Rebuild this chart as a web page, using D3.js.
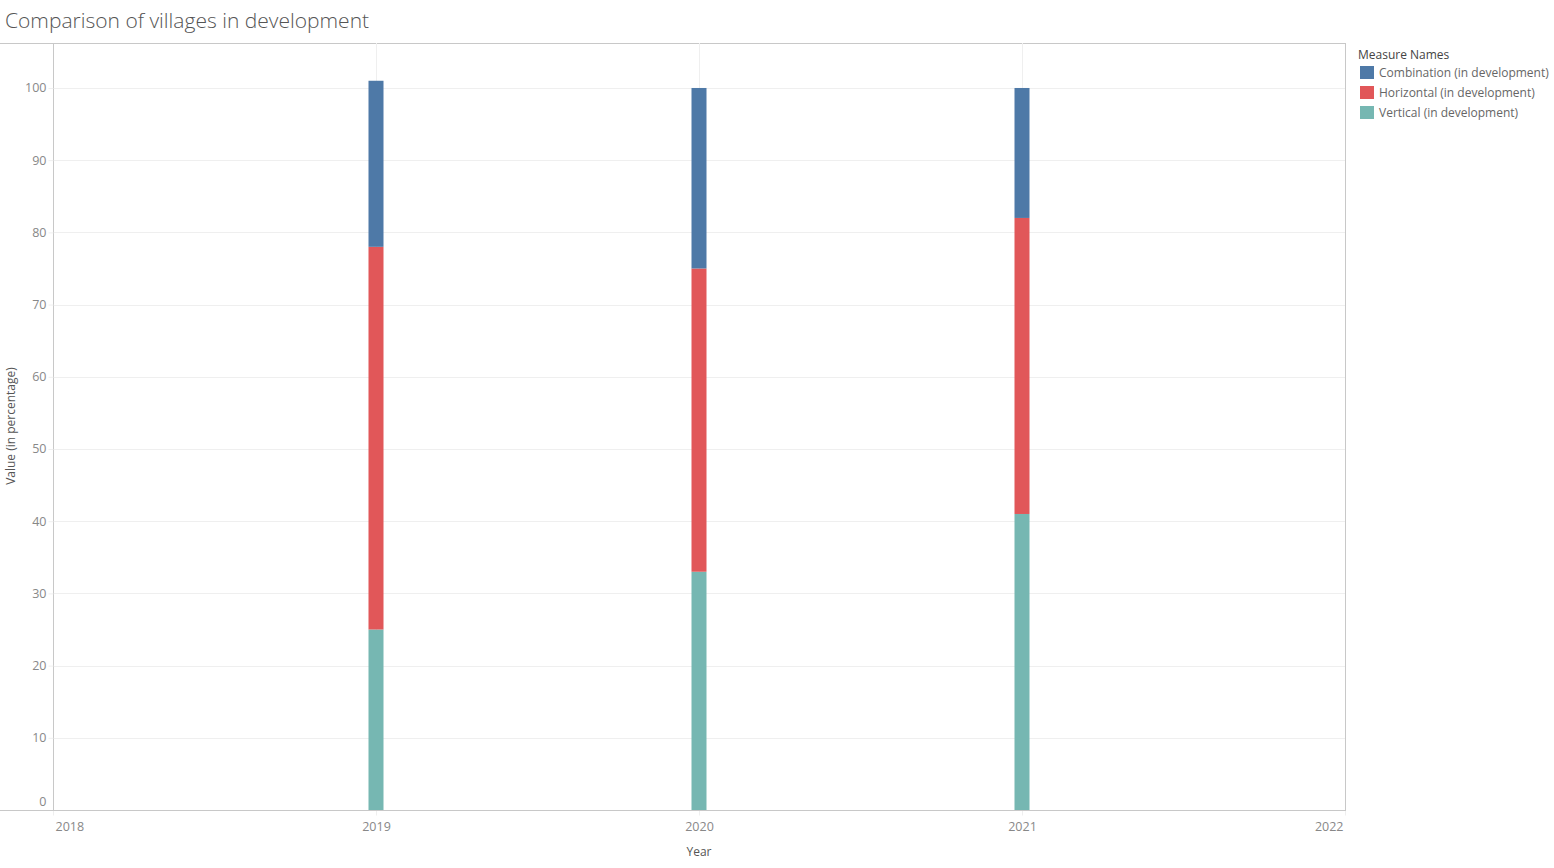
<!DOCTYPE html>
<html><head><meta charset="utf-8">
<script src="https://cdn.jsdelivr.net/npm/d3@7"></script>
<style>
body{margin:0;background:#fff;}
svg{display:block;font-family:"Open Sans","Lato",sans-serif;}
</style></head>
<body><svg id="c" width="1554" height="868"></svg>
<script>
const years = [2019, 2020, 2021];
const series = ["Vertical (in development)", "Horizontal (in development)", "Combination (in development)"];
const vertical = [25, 33, 41];
const horizontal = [53, 42, 41];
const combination = [23, 25, 18];
const yTicks = [0,10,20,30,40,50,60,70,80,90,100];
const xTicks = [2018, 2019, 2020, 2021, 2022];
const legendOrder = ["Combination (in development)", "Horizontal (in development)", "Vertical (in development)"];
const colors = {"Combination (in development)":"#4e79a7","Horizontal (in development)":"#e15759","Vertical (in development)":"#76b7b2"};

const svg = d3.select("#c");
const L = 53, R = 1345, T = 43, B = 810;
const x = d3.scaleLinear().domain([2018, 2022]).range([L, R]);
const y = d3.scaleLinear().domain([0, 106.23]).range([B, T]);

svg.append("text").attr("x", 5).attr("y", 28).text("Comparison of villages in development")
  .attr("font-size", 21).attr("font-weight", 300).attr("fill", "#555");

svg.append("line").attr("x1", 0).attr("x2", R).attr("y1", T+0.5).attr("y2", T+0.5).attr("stroke", "#c8c8c8");

svg.append("g").selectAll("line").data(yTicks.slice(1)).join("line")
  .attr("x1", L).attr("x2", R).attr("y1", d => Math.round(y(d))+0.5).attr("y2", d => Math.round(y(d))+0.5)
  .attr("stroke", "#efefef");
svg.append("g").selectAll("line").data(years).join("line")
  .attr("x1", d => Math.round(x(d))+0.5).attr("x2", d => Math.round(x(d))+0.5).attr("y1", T).attr("y2", B)
  .attr("stroke", "#efefef");

const rows = years.map((yr, i) => ({year: yr, "Vertical (in development)": vertical[i], "Horizontal (in development)": horizontal[i], "Combination (in development)": combination[i]}));
const stack = d3.stack().keys(series)(rows);
const bw = 15;
svg.append("g").selectAll("g").data(stack).join("g").attr("fill", d => colors[d.key])
  .selectAll("rect").data(d => d).join("rect")
  .attr("x", d => x(d.data.year) - bw/2).attr("width", bw)
  .attr("y", d => y(d[1])).attr("height", d => y(d[0]) - y(d[1]));

const yAxis = d3.axisLeft(y).tickValues(yTicks).tickSize(5).tickFormat(d3.format("d"));
const gy = svg.append("g").attr("transform", `translate(${L+0.5},0)`).call(yAxis);
gy.select(".domain").attr("stroke", "#c8c8c8").attr("d", `M0,${T}V${B}`);
gy.selectAll(".tick line").attr("stroke", "#efefef");
gy.selectAll(".tick text").attr("fill", "#888").attr("font-size", 12.5).attr("x", -7)
  .attr("font-family", "'Open Sans',sans-serif")
  .attr("dy", d => d === 0 ? "-0.35em" : "0.32em");

svg.append("line").attr("x1", R+0.5).attr("x2", R+0.5).attr("y1", T).attr("y2", B).attr("stroke", "#c8c8c8");

const xAxis = d3.axisBottom(x).tickValues(xTicks).tickSize(5).tickFormat(d3.format("d"));
const gx = svg.append("g").attr("transform", `translate(0,${B+0.5})`).call(xAxis);
gx.select(".domain").remove();
gx.selectAll(".tick line").attr("stroke", "#efefef");
gx.selectAll(".tick text").attr("fill", "#888").attr("font-size", 12.5).attr("y", 12)
  .attr("font-family", "'Open Sans',sans-serif")
  .attr("text-anchor", d => d === 2018 ? "start" : d === 2022 ? "end" : "middle")
  .attr("dx", d => d === 2018 ? 2 : d === 2022 ? -2 : 0);
svg.append("line").attr("x1", 0).attr("x2", R+1).attr("y1", B+0.5).attr("y2", B+0.5).attr("stroke", "#c8c8c8");

svg.append("text").attr("x", 699).attr("y", 856).attr("text-anchor", "middle").text("Year")
  .attr("font-size", 12).attr("fill", "#555");
svg.append("text").attr("transform", "translate(15,426) rotate(-90)").attr("text-anchor", "middle")
  .text("Value (in percentage)").attr("font-size", 12).attr("fill", "#555");

svg.append("text").attr("x", 1358).attr("y", 59).text("Measure Names").attr("font-size", 12).attr("fill", "#444");
const lg = svg.append("g").selectAll("g").data(legendOrder).join("g")
  .attr("transform", (d, i) => `translate(1360,${66 + i*20})`);
lg.append("rect").attr("width", 14).attr("height", 13).attr("fill", d => colors[d]);
lg.append("text").attr("x", 19).attr("y", 11).text(d => d).attr("font-size", 12).attr("fill", "#666");
</script></body></html>
